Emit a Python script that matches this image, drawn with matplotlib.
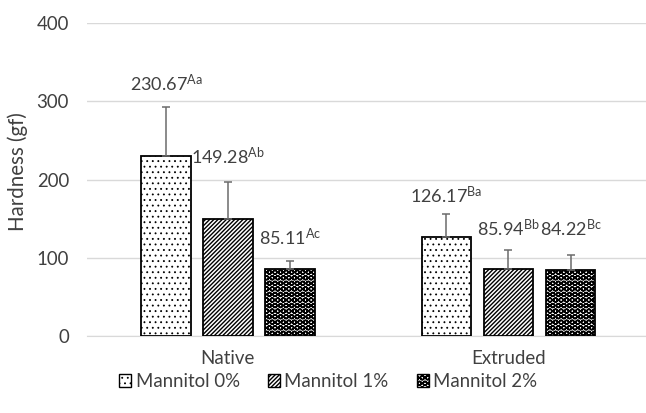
import numpy as np
import matplotlib
matplotlib.use('Agg')
import matplotlib.pyplot as plt
from matplotlib.patches import Patch

plt.rcParams['font.family'] = ['Lato', 'DejaVu Sans']
plt.rcParams['hatch.linewidth'] = 1.0

# hardness means, upper error and significance letters
groups = ['Native', 'Extruded']
series = ['Mannitol 0%', 'Mannitol 1%', 'Mannitol 2%']
means = [[230.67, 126.17], [149.28, 85.94], [85.11, 84.22]]
errors = [[62, 30], [48, 24], [11, 19]]
letters = [['Aa', 'Ba'], ['Ab', 'Bb'], ['Ac', 'Bc']]
yticks = [0, 100, 200, 300, 400]

# where each value label sits (data units), as laid out in the sheet
label_y = [[323, 180], [229, 138], [126.5, 138]]

hatches = ['...', '////////', 'OOO']
hatch_lw = [0.6, 1.0, 1.1]
text_col = '#404040'
grid_col = '#d9d9d9'


def set_hlw(patch, lw):
    if hasattr(patch, 'set_hatch_linewidth'):
        patch.set_hatch_linewidth(lw)


fig = plt.figure(figsize=(6.46, 4.13), dpi=100)
ax = fig.add_axes([0.1347, 0.1864, 0.8653, 0.7579])

x = np.arange(len(groups))
width = 0.176
step = 0.221

for i, name in enumerate(series):
    pos = x + (i - 1) * step
    bars = ax.bar(pos, means[i], width, color='white', edgecolor='black',
                  linewidth=1.3, hatch=hatches[i], zorder=3)
    for b in bars:
        set_hlw(b, hatch_lw[i])
    ax.errorbar(pos, means[i], yerr=[np.zeros(len(groups)), errors[i]],
                fmt='none', ecolor='#6b6b6b', elinewidth=1.1,
                capsize=3, capthick=1.1, zorder=4)
    for j in range(len(groups)):
        ax.text(pos[j], label_y[i][j],
                r'$\mathregular{%.2f^{%s}}$' % (means[i][j], letters[i][j]),
                ha='center', va='center', fontsize=13, color=text_col,
                zorder=5)

ax.set_xlim(-0.502, 1.49)
ax.set_ylim(0, 400)
ax.set_yticks(yticks)
ax.set_xticks(x)
ax.set_xticklabels(groups)
ax.tick_params(axis='both', length=0, labelsize=13.4, labelcolor=text_col)
ax.tick_params(axis='y', pad=13)
ax.tick_params(axis='x', pad=10)
ax.grid(axis='y', color=grid_col, linewidth=1.0, zorder=0)
ax.set_axisbelow(True)
for s in ['top', 'right', 'left']:
    ax.spines[s].set_visible(False)
ax.spines['bottom'].set_color(grid_col)
ax.set_ylabel('Hardness (gf)', fontsize=14.8, color=text_col)
ax.yaxis.set_label_coords(-0.106, 0.524)

handles = [Patch(facecolor='white', edgecolor='black', linewidth=1.0,
                 hatch=hatches[i], label=series[i]) for i in range(len(series))]
leg = fig.legend(handles=handles, loc='center', bbox_to_anchor=(0.508, 0.076),
                 ncol=3, frameon=False, fontsize=13.4, handlelength=0.65,
                 handleheight=0.65, handletextpad=0.25, columnspacing=1.5,
                 labelcolor=text_col)
for h, lw in zip(leg.get_patches(), hatch_lw):
    set_hlw(h, lw)

fig.savefig('out.png', dpi=100)
